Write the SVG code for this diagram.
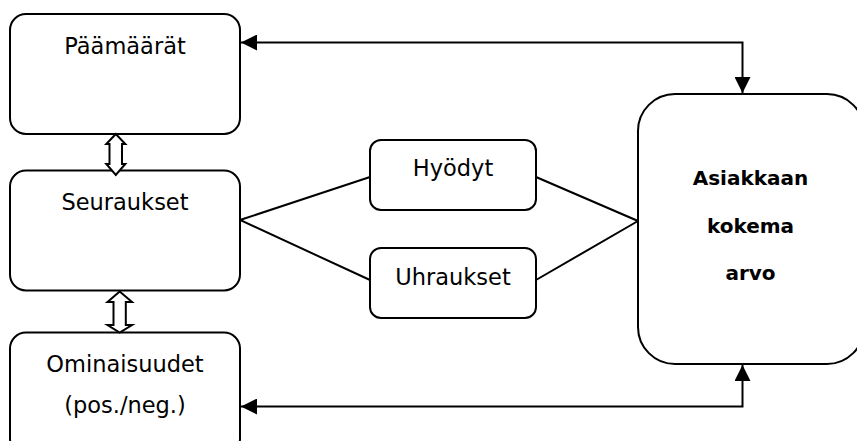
<svg xmlns="http://www.w3.org/2000/svg" width="857" height="441" viewBox="0 0 857 441">
  <style>
    .box { fill: #fff; stroke: #000; stroke-width: 2; }
    .link { fill: none; stroke: #000; stroke-width: 2; }
    .dbl { fill: #fff; stroke: #000; stroke-width: 2; stroke-linejoin: miter; }
    .lbl { font-family: "DejaVu Sans", "Liberation Sans", sans-serif; font-size: 22.5px; fill: #000; text-anchor: middle; }
    .big { font-family: "DejaVu Sans", "Liberation Sans", sans-serif; font-size: 20px; font-weight: bold; fill: #000; text-anchor: middle; }
  </style>
  <defs>
    <marker id="head" viewBox="0 0 16 16" refX="16" refY="8" markerWidth="16" markerHeight="16" markerUnits="userSpaceOnUse" orient="auto-start-reverse">
      <path d="M0,0 L16,8 L0,16 Z" fill="#000"/>
    </marker>
  </defs>
  <rect width="857" height="441" fill="#fff"/>

  <g id="connectors">
    <path class="link" d="M241,42.5 H742.5 V93" marker-start="url(#head)" marker-end="url(#head)"/>
    <path class="link" d="M742.5,365 V406.5 H241" marker-start="url(#head)" marker-end="url(#head)"/>
    <path class="link" d="M370,177 L240,220 L370,280"/>
    <path class="link" d="M536,177 L638,221 L536,280"/>
  </g>

  <g id="paamaarat">
    <rect class="box" x="10" y="14" width="230" height="120" rx="16"/>
    <text class="lbl" x="125" y="54">Päämäärät</text>
  </g>

  <g id="seuraukset">
    <rect class="box" x="10" y="170.5" width="230" height="120" rx="16"/>
    <text class="lbl" x="125" y="210">Seuraukset</text>
  </g>

  <g id="ominaisuudet">
    <rect class="box" x="10" y="332.5" width="230" height="122" rx="16"/>
    <text class="lbl" x="125" y="372">Ominaisuudet</text>
    <text class="lbl" x="125" y="413">(pos./neg.)</text>
  </g>

  <g id="hyodyt">
    <rect class="box" x="370" y="140" width="166" height="70" rx="11"/>
    <text class="lbl" x="453" y="176">Hyödyt</text>
  </g>

  <g id="uhraukset">
    <rect class="box" x="370" y="248" width="166" height="70" rx="11"/>
    <text class="lbl" x="453" y="285">Uhraukset</text>
  </g>

  <g id="asiakkaan-arvo">
    <rect class="box" x="638" y="94" width="226" height="270" rx="37"/>
    <text class="big" x="750.5" y="185">Asiakkaan</text>
    <text class="big" x="750.5" y="233">kokema</text>
    <text class="big" x="750.5" y="280">arvo</text>
  </g>

  <g id="double-arrows">
    <polygon class="dbl" points="115.8,134 106.3,144 109.5,144 109.5,164 106.3,164 115.8,175 125.3,164 122,164 122,144 125.3,144"/>
    <polygon class="dbl" points="119.7,291.5 107.5,302 113.5,302 113.5,325 107.5,325 119.7,332.5 132,325 125.8,325 125.8,302 132,302"/>
  </g>
</svg>
